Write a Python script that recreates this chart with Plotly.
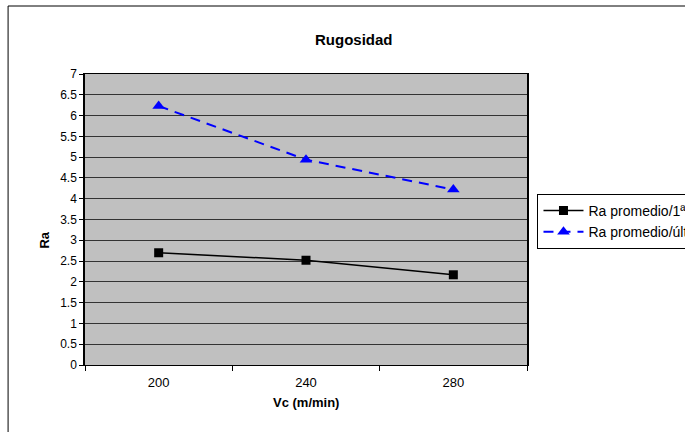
import plotly.graph_objects as go

categories = ["200", "240", "280"]
ra_1 = [2.70, 2.52, 2.17]
ra_u = [6.23, 4.94, 4.22]
name_1 = "Ra promedio/1ª pasada"
name_u = "Ra promedio/última pasada"
y_ticks = [0, 0.5, 1, 1.5, 2, 2.5, 3, 3.5, 4, 4.5, 5, 5.5, 6, 6.5, 7]

W, H = 685, 432
L, R, T, B = 85, 527.5, 74, 365
pw, ph = R - L, B - T


def px(x):
    return (x - L) / pw


def py(y):
    return (B - y) / ph


FONT = "Liberation Sans, Arial, sans-serif"

fig = go.Figure()
fig.add_trace(go.Scatter(
    x=categories, y=ra_1, name=name_1, mode="lines+markers",
    line=dict(color="black", width=1.5),
    marker=dict(symbol="square", size=9, color="black"),
))
fig.add_trace(go.Scatter(
    x=categories, y=ra_u, name=name_u, mode="lines+markers",
    line=dict(color="#0000FF", width=2, dash="10px,7px"),
    marker=dict(symbol="triangle-up", size=11, color="#0000FF"),
))

fig.update_layout(
    width=W, height=H,
    margin=dict(l=L, r=W - R, t=T, b=H - B, autoexpand=False),
    paper_bgcolor="white",
    plot_bgcolor="#C0C0C0",
    font=dict(family=FONT, size=12, color="black"),
    showlegend=True,
    legend=dict(
        x=px(538), y=py(194), xanchor="left", yanchor="top",
        bordercolor="black", borderwidth=1, bgcolor="white",
        font=dict(family=FONT, size=14, color="black"),
        tracegroupgap=0, itemwidth=40,
    ),
    annotations=[
        dict(text="<b>Rugosidad</b>", x=px(354), y=py(29), xref="paper", yref="paper",
             showarrow=False, font=dict(family=FONT, size=15)),
        dict(text="<b>Ra</b>", x=px(34), y=py(240), xref="paper", yref="paper",
             showarrow=False, textangle=-90, font=dict(family=FONT, size=13)),
        dict(text="<b>Vc (m/min)</b>", x=px(306), y=py(412), xref="paper", yref="paper",
             showarrow=False, font=dict(family=FONT, size=13)),
    ],
    shapes=[
        dict(type="rect", xref="paper", yref="paper",
             x0=px(8), x1=px(720), y0=py(470), y1=py(6),
             line=dict(color="black", width=1), fillcolor="rgba(0,0,0,0)", layer="below"),
    ],
)

fig.update_xaxes(
    type="category", range=[-0.5, 2.5],
    showline=True, linecolor="black", linewidth=1, mirror=True,
    ticks="outside", tickson="boundaries", ticklen=5, tickcolor="black",
    showgrid=False, tickfont=dict(size=13), ticklabelstandoff=5,
)
fig.update_yaxes(
    range=[0, 7], tickvals=y_ticks, ticktext=[f"{v:g}" for v in y_ticks],
    showline=True, linecolor="black", linewidth=1.5, mirror=True,
    ticks="outside", ticklen=4, tickcolor="black",
    showgrid=True, gridcolor="#333333", gridwidth=1, zeroline=False,
    tickfont=dict(size=12),
)

fig.write_html(
    "out.html",
    config={"displayModeBar": False},
    post_script="document.body.style.margin='0';document.body.style.overflow='hidden';",
)
